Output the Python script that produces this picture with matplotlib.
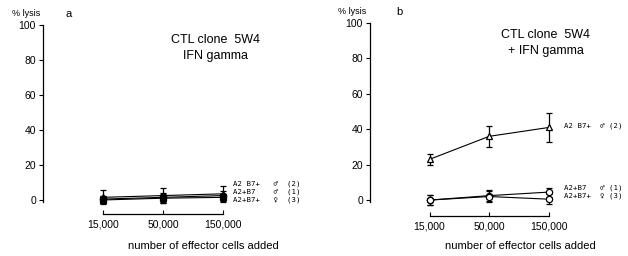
import numpy as np
import matplotlib
matplotlib.use("Agg")
import matplotlib.pyplot as plt

# data
effectors = ["15,000", "50,000", "150,000"]

# panel a: CTL clone 5W4, IFN gamma
a_s2 = [1.5, 2.5, 3.5]   # A2 B7+ male (2)
a_s2_err = [4.0, 4.5, 4.5]
a_s1 = [0.5, 1.5, 2.5]   # A2+B7 male (1)
a_s1_err = [2.0, 2.5, 2.5]
a_s3 = [0.0, 1.0, 1.5]   # A2+B7+ female (3)
a_s3_err = [2.0, 2.5, 2.0]

# panel b: CTL clone 5W4 + IFN gamma
b_s2 = [23, 36, 41]
b_s2_err = [3, 6, 8]
b_s1 = [0.0, 2.5, 4.5]
b_s1_err = [3, 3, 2.5]
b_s3 = [0.0, 2.0, 0.5]
b_s3_err = [3, 3, 3]

yticks = [0, 20, 40, 60, 80, 100]

SANS = ["Liberation Sans", "DejaVu Sans"]
MONO = ["DejaVu Sans Mono", "DejaVu Sans"]

fig = plt.figure(figsize=(6.28, 2.56), dpi=100)


def setup(ax, ylim, label_xy):
    ax.set_xlim(-1, 3.5)
    ax.set_ylim(*ylim)
    for s in ["top", "right"]:
        ax.spines[s].set_visible(False)
    ax.spines["left"].set_bounds(-1, 100)
    ax.spines["bottom"].set_bounds(0, 2)
    ax.spines["left"].set_linewidth(0.9)
    ax.spines["bottom"].set_linewidth(0.9)
    ax.set_yticks(yticks)
    ax.set_yticklabels([str(v) for v in yticks], family=SANS, fontsize=7.5)
    ax.tick_params(axis="y", direction="out", length=3, width=0.8, pad=2)
    ax.set_xticks(range(len(effectors)))
    ax.set_xticklabels(effectors, family=SANS, fontsize=7.5)
    ax.tick_params(axis="x", direction="in", length=3, width=0.8, pad=4)
    ax.set_xlabel("number of effector cells added", family=SANS, fontsize=8)
    ax.xaxis.set_label_coords(*label_xy)
    ax.patch.set_alpha(0)


def series(ax, vals, err, marker, filled):
    x = np.arange(len(vals))
    ax.errorbar(x, vals, yerr=err, color="black", lw=0.8, elinewidth=0.9,
                capsize=2.5, capthick=0.9, marker=marker, ms=4.5,
                mfc="black" if filled else "white", mec="black", mew=0.9)


# panel a
ax1 = fig.add_axes([43 / 628, 42 / 256, 270 / 628, 193 / 256])
setup(ax1, (-8, 102), (0.593, -0.14))
series(ax1, a_s2, a_s2_err, "^", False)
series(ax1, a_s1, a_s1_err, "o", True)
series(ax1, a_s3, a_s3_err, "s", True)
ax1.text(2.17, 9, "A2 B7+   \u2642  (2)", family=MONO, fontsize=5.3, va="center")
ax1.text(2.17, 4.5, "A2+B7    \u2642  (1)", family=MONO, fontsize=5.3, va="center")
ax1.text(2.17, 0, "A2+B7+   \u2640  (3)", family=MONO, fontsize=5.3, va="center")
ax1.text(1.88, 91, "CTL clone  5W4", family=SANS, fontsize=9, ha="center", va="center")
ax1.text(1.88, 82, "IFN gamma", family=SANS, fontsize=9, ha="center", va="center")

# panel b
ax2 = fig.add_axes([370 / 628, 40 / 256, 268 / 628, 196.5 / 256])
setup(ax2, (-9, 102), (0.56, -0.127))
series(ax2, b_s2, b_s2_err, "^", False)
series(ax2, b_s1, b_s1_err, "o", False)
series(ax2, b_s3, b_s3_err, "o", False)
ax2.text(2.25, 42, "A2 B7+  \u2642 (2)", family=MONO, fontsize=5.3, va="center")
ax2.text(2.25, 7, "A2+B7   \u2642 (1)", family=MONO, fontsize=5.3, va="center")
ax2.text(2.25, 2.5, "A2+B7+  \u2640 (3)", family=MONO, fontsize=5.3, va="center")
ax2.text(1.95, 93, "CTL clone  5W4", family=SANS, fontsize=9, ha="center", va="center")
ax2.text(1.95, 84, "+ IFN gamma", family=SANS, fontsize=9, ha="center", va="center")

# corner labels
fig.text(12 / 628, 1 - 14 / 256, "% lysis", family=SANS, fontsize=6.5, va="center")
fig.text(66 / 628, 1 - 14 / 256, "a", family=SANS, fontsize=8, va="center")
fig.text(338 / 628, 1 - 12 / 256, "% lysis", family=SANS, fontsize=6.5, va="center")
fig.text(396 / 628, 1 - 12 / 256, "b", family=SANS, fontsize=8, va="center")

fig.savefig("out.png", dpi=100, facecolor="white")
